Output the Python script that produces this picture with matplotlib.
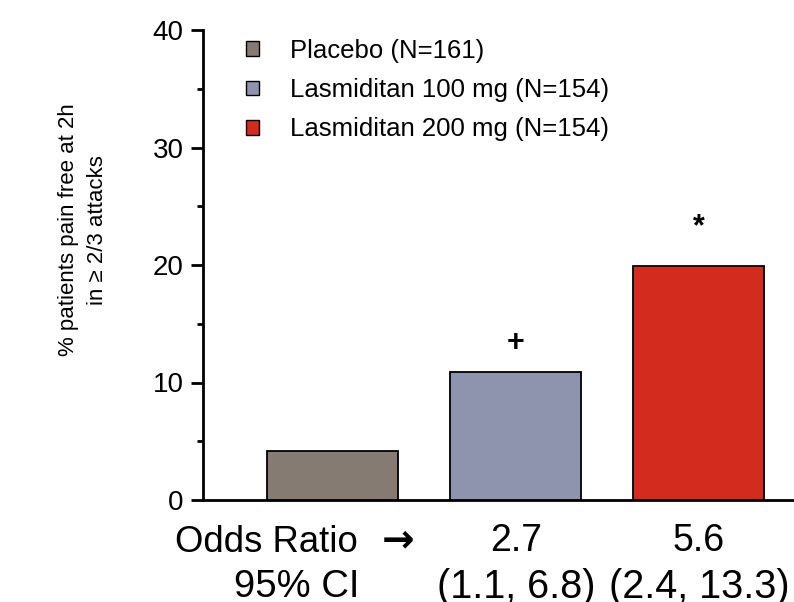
import matplotlib
matplotlib.use("Agg")
import matplotlib.pyplot as plt
from matplotlib.ticker import MultipleLocator
from matplotlib.patches import Patch

plt.rcParams['font.family'] = ['Liberation Sans', 'DejaVu Sans']

groups = ["Placebo (N=161)", "Lasmiditan 100 mg (N=154)", "Lasmiditan 200 mg (N=154)"]
values = [4.2, 10.9, 19.9]
colors = ["#857b72", "#8e93ae", "#d42b1f"]
sig_marks = ["", "+", "*"]
odds_ratios = ["", "2.7", "5.6"]
ci_labels = ["", "(1.1, 6.8)", "(2.4, 13.3)"]
yticks = [0, 10, 20, 30, 40]

W, H = 794, 602
fig = plt.figure(figsize=(W / 100, H / 100), dpi=100)
ax = fig.add_axes([203 / W, 1 - 500 / H, 1 - 203 / W, (500 - 30) / H])

x = list(range(len(values)))
ax.bar(x, values, width=0.715, color=colors, edgecolor="black", linewidth=1.3, zorder=3)

ax.set_xlim(-0.71, 2.52)
ax.set_ylim(0, 40)
ax.set_yticks(yticks)
ax.yaxis.set_minor_locator(MultipleLocator(5))
ax.set_xticks([])
ax.spines['top'].set_visible(False)
ax.spines['right'].set_visible(False)
ax.spines['left'].set_linewidth(2.0)
ax.spines['bottom'].set_linewidth(2.0)
ax.tick_params(axis='y', which='major', length=8.6, width=2.0, labelsize=20, pad=5.5)
ax.tick_params(axis='y', which='minor', length=4.3, width=2.0)

offsets = {"+": 2.5, "*": 3.3}
for xi, v, m in zip(x, values, sig_marks):
    if m:
        ax.text(xi, v + offsets[m], m, ha='center', va='center', fontsize=22, fontweight='bold')

fig.text(83 / W, 1 - 230 / H, "% patients pain free at 2h\nin ≥ 2/3 attacks",
         rotation=90, ha='center', va='center', fontsize=16, multialignment='center',
         linespacing=1.45)

handles = [Patch(facecolor=c, edgecolor='black', linewidth=1.0) for c in colors]
ax.legend(handles, groups, loc='upper left', bbox_to_anchor=(0.043, 1.02),
          frameon=False, fontsize=18.5, handlelength=0.5, handleheight=0.5,
          handletextpad=1.2, labelspacing=0.6, borderpad=0.2)

# bottom annotation texts
fig.text(175 / W, 1 - 542 / H, "Odds Ratio", ha='left', va='center', fontsize=26.3)
fig.text(398 / W, 1 - 541 / H, "→", ha='center', va='center', fontsize=28,
         family=['Noto Sans', 'DejaVu Sans'], fontweight='bold')
fig.text(297 / W, 1 - 587 / H, "95% CI", ha='center', va='center', fontsize=27.5)
for xi, o, c in zip(x, odds_ratios, ci_labels):
    if o:
        xd = ax.transData.transform((xi, 0))[0]
        xf = fig.transFigure.inverted().transform((xd, 0))[0]
        fig.text(xf, 1 - 541 / H, o, ha='center', va='center', fontsize=27)
        fig.text(xf, 1 - 587 / H, c, ha='center', va='center', fontsize=28.5)

fig.savefig("out.png", dpi=100)
